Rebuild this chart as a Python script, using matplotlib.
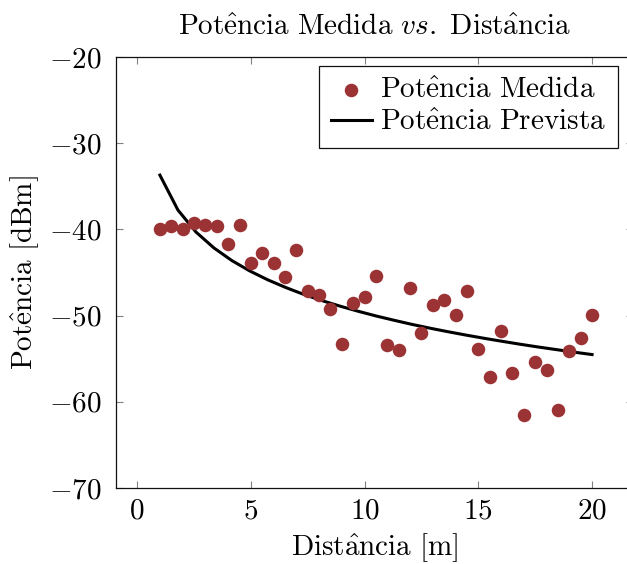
import matplotlib
matplotlib.use("Agg")
import matplotlib.pyplot as plt

# measured points (distance in m, power in dBm)
dist = [1, 1.5, 2, 2.5, 3, 3.5, 4, 4.5, 5, 5.5, 6, 6.5, 7, 7.5, 8, 8.5, 9, 9.5, 10,
        10.5, 11, 11.5, 12, 12.5, 13, 13.5, 14, 14.5, 15, 15.5, 16, 16.5, 17, 17.5,
        18, 18.5, 19, 19.5, 20]
p_med = [-39.9, -39.6, -39.9, -39.3, -39.5, -39.6, -41.7, -39.5, -43.9, -42.7,
         -43.9, -45.5, -42.4, -47.1, -47.6, -49.2, -53.3, -48.5, -47.9, -45.4,
         -53.4, -54.0, -46.8, -52.0, -48.8, -48.2, -49.9, -47.15, -53.9, -57.1,
         -51.8, -56.7, -61.5, -55.35, -56.3, -60.9, -54.1, -52.6, -49.9]

# predicted curve, as sampled in the original (25 samples over 1..20)
dist_prev = [1, 1.7917, 2.5833, 3.375, 4.1667, 4.9583, 5.75, 6.5417, 7.3333, 8.125,
             8.9167, 9.7083, 10.5, 11.2917, 12.0833, 12.875, 13.6667, 14.4583,
             15.25, 16.0417, 16.8333, 17.625, 18.4167, 19.2083, 20]
p_prev = [-33.70, -37.75, -40.30, -42.15, -43.62, -44.83, -45.86, -46.75, -47.55,
          -48.26, -48.90, -49.49, -50.04, -50.54, -51.02, -51.46, -51.87, -52.26,
          -52.63, -52.98, -53.32, -53.64, -53.94, -54.24, -54.52]

xticks = [0, 5, 10, 15, 20]
yticks = [-70, -60, -50, -40, -30, -20]

plt.rcParams["mathtext.fontset"] = "cm"
plt.rcParams["font.family"] = "cmr10"
plt.rcParams["axes.formatter.use_mathtext"] = True

fs = 21

fig = plt.figure(figsize=(6.27, 5.64), dpi=100)
ax = fig.add_axes([116 / 627, 76 / 564, (633 - 116) / 627, (488 - 57) / 564])

ax.scatter(dist, p_med, s=95, color="#9b3335", linewidths=0, zorder=3,
           label=r"$\mathrm{Pot\hat{e}ncia\ Medida}$")
ax.plot(dist_prev, p_prev, color="black", lw=2.2, zorder=2,
        label=r"$\mathrm{Pot\hat{e}ncia\ Prevista}$")

ax.set_xlim(-0.93, 21.8)
ax.set_ylim(-70, -20)
ax.set_xticks(xticks)
ax.set_yticks(yticks)

ax.tick_params(direction="in", length=5, width=0.8, color="#808080",
               top=True, right=True, labelsize=fs)
ax.tick_params(axis="y", pad=10)
ax.tick_params(axis="x", pad=7)
for sp in ax.spines.values():
    sp.set_linewidth(0.9)
    sp.set_color("#111111")

ax.set_title(r"$\mathrm{Pot\hat{e}ncia\ Medida}\ \mathit{vs.}\ \mathrm{Dist\hat{a}ncia}$",
             fontsize=fs, pad=16)
ax.set_xlabel(r"$\mathrm{Dist\hat{a}ncia\ [m]}$", fontsize=fs, labelpad=5)
ax.set_ylabel(r"$\mathrm{Pot\hat{e}ncia\ [dBm]}$", fontsize=fs, labelpad=6)

leg = ax.legend(loc="upper right", bbox_to_anchor=(618 / 627, 1 - 66 / 564),
                bbox_transform=fig.transFigure, fontsize=fs, frameon=True,
                fancybox=False, framealpha=1, edgecolor="#111111",
                borderpad=0.4, handlelength=1.4, handletextpad=0.3,
                labelspacing=0.2, borderaxespad=0)
leg.get_frame().set_linewidth(0.9)

fig.savefig("out.png", dpi=100)
